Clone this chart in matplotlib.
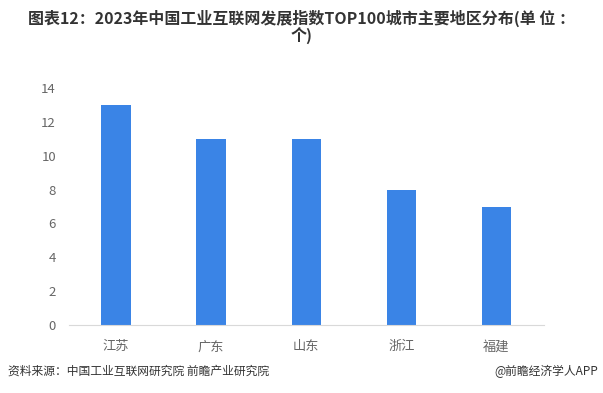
import matplotlib.pyplot as plt
import numpy as np

plt.rcParams['font.family'] = ['Noto Sans CJK SC', 'DejaVu Sans']

regions = ['江苏', '广东', '山东', '浙江', '福建']
counts = [13, 11, 11, 8, 7]
yticks = [0, 2, 4, 6, 8, 10, 12, 14]

fig = plt.figure(figsize=(6.03, 3.93), dpi=100)
ax = fig.add_axes([68.5/603, (393-325)/393, (544-68.5)/603, (325-88)/393])

x = np.arange(len(regions))
ax.bar(x, counts, width=0.31, color='#3A84E6')

ax.set_xlim(-0.5, 4.5)
ax.set_ylim(0, 14)
ax.set_yticks(yticks)
ax.set_xticks(x)
ax.set_xticklabels(regions)
ax.tick_params(axis='both', length=0, colors='#666666', labelsize=9.5)
ax.tick_params(axis='y', pad=9)
ax.tick_params(axis='x', pad=11)
for s in ['top', 'right', 'left']:
    ax.spines[s].set_visible(False)
ax.spines['bottom'].set_color('#d9d9d9')

fig.text(0.5, 1-27/393, '图表12：2023年中国工业互联网发展指数TOP100城市主要地区分布(单 位 ：\n个)',
         ha='center', va='center', fontsize=11.5, fontweight='bold', color='#333333',
         linespacing=0.95)
fig.text(8/603, 1-371/393, '资料来源：中国工业互联网研究院 前瞻产业研究院', ha='left', va='center',
         fontsize=8.5, color='#333333')
fig.text(598/603, 1-371/393, '@前瞻经济学人APP', ha='right', va='center',
         fontsize=8.5, color='#333333')

fig.savefig('out.png', dpi=100)
